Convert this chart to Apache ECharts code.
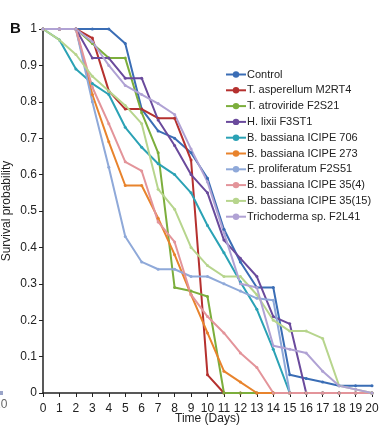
<!DOCTYPE html>
<html><head><meta charset="utf-8">
<script src="https://cdn.jsdelivr.net/npm/echarts@6/dist/echarts.min.js"></script>
<style>html,body{margin:0;padding:0;background:#fff}#c{width:380px;height:429px}</style>
</head><body><div id="c"></div>
<script>
const days = [0,1,2,3,4,5,6,7,8,9,10,11,12,13,14,15,16,17,18,19,20];
const seriesNames = ["Control","T. asperellum M2RT4","T. atroviride F2S21","H. lixii F3ST1","B. bassiana ICIPE 706","B. bassiana ICIPE 273","F. proliferatum F2S51","B. bassiana ICIPE 35(4)","B. bassiana ICIPE 35(15)","Trichoderma sp. F2L41"];
const control      = [1,1,1,1,1,0.96,0.78,0.72,0.70,0.66,0.59,0.45,0.36,0.29,0.29,0.05,0.04,0.03,0.02,0.02,0.02];
const asperellum   = [1,1,1,0.975,0.83,0.78,0.78,0.755,0.755,0.64,0.05,0,0,0,0,0,0,0,0,0,0];
const atroviride   = [1,1,1,0.96,0.92,0.92,0.77,0.66,0.29,0.28,0.265,0,0,0,0,0,0,0,0,0,0];
const lixii        = [1,1,1,0.92,0.92,0.865,0.865,0.75,0.68,0.60,0.55,0.42,0.37,0.32,0.21,0.19,0,0,0,0,0];
const icipe706     = [1,0.97,0.89,0.85,0.82,0.73,0.675,0.63,0.60,0.55,0.46,0.385,0.305,0.23,0.12,0,0,0,0,0,0];
const icipe273     = [1,1,1,0.82,0.69,0.57,0.57,0.48,0.38,0.27,0.165,0.06,0.03,0,0,0,0,0,0,0,0];
const proliferatum = [1,1,1,0.80,0.62,0.43,0.36,0.34,0.34,0.32,0.32,0.30,0.28,0.26,0.255,0,0,0,0,0,0];
const icipe35_4    = [1,1,1,0.84,0.74,0.635,0.61,0.47,0.415,0.27,0.21,0.165,0.11,0.07,0,0,0,0,0,0,0];
const icipe35_15   = [1,0.97,0.93,0.87,0.83,0.79,0.74,0.56,0.505,0.40,0.35,0.32,0.32,0.27,0.20,0.17,0.17,0.15,0.02,0.01,0];
const trichoderma  = [1,1,1,0.965,0.90,0.845,0.82,0.795,0.765,0.67,0.58,0.44,0.30,0.29,0.13,0.12,0.11,0.06,0.02,0.01,0];
const yTicks = [0,0.1,0.2,0.3,0.4,0.5,0.6,0.7,0.8,0.9,1];

const allData = [control,asperellum,atroviride,lixii,icipe706,icipe273,proliferatum,icipe35_4,icipe35_15,trichoderma];
const colors = ["#3a6db5","#b5312f","#7cae3c","#6a4a9c","#2ba2b5","#e8832c","#8fa9d9","#e3949a","#b7d58d","#b0a2d4"];

const chart = echarts.init(document.getElementById('c'), null, {renderer:'canvas'});
chart.setOption({
  animation:false,
  textStyle:{fontFamily:'Liberation Sans, Arial, sans-serif'},
  grid:{left:43,right:8,top:29,bottom:36,containLabel:false,outerBoundsMode:'none'},
  legend:{
    orient:'vertical', left:220, top:64, itemWidth:20, itemHeight:8, itemGap:4.8,
    textStyle:{fontSize:11,color:'#222',padding:[0,0,0,-4]},
    data:seriesNames
  },
  xAxis:{
    type:'value', min:0, max:20, interval:1,
    name:'Time (Days)', nameLocation:'middle', nameGap:20, nameMoveOverlap:false,
    nameTextStyle:{fontSize:12,color:'#222',verticalAlign:'top'},
    axisLine:{lineStyle:{color:'#222',width:1.5}},
    axisTick:{show:true,length:4,lineStyle:{color:'#222'}},
    axisLabel:{fontSize:12,color:'#222',margin:10},
    splitLine:{show:false}
  },
  yAxis:{
    type:'value', min:0, max:1, interval:0.1,
    name:'Survival probability', nameLocation:'middle', nameGap:30, nameMoveOverlap:false,
    nameTextStyle:{fontSize:12,color:'#222'},
    axisLine:{show:true,lineStyle:{color:'#222',width:1.5}},
    axisTick:{show:true,length:4,lineStyle:{color:'#222'}},
    axisLabel:{fontSize:12,color:'#222',margin:6,formatter:v=>String(+v.toFixed(1))},
    splitLine:{show:false}
  },
  graphic:[
    {type:'text',left:10,top:21,style:{text:'B',font:'bold 15px Liberation Sans, Arial',fill:'#111'}},
    {type:'text',left:-6,top:399,style:{text:'20',font:'12px Liberation Sans, Arial',fill:'#666'}},
    {type:'rect',shape:{x:0,y:391,width:3,height:4},style:{fill:'#9aa4c8'}}
  ],
  series: seriesNames.map((n,i)=>({
    name:n, type:'line', data:days.map((d,j)=>[d,allData[i][j]]),
    color:colors[i], symbol:'circle', symbolSize:3, showSymbol:true,
    lineStyle:{width:2}, itemStyle:{color:colors[i]}
  }))
});
</script></body></html>
